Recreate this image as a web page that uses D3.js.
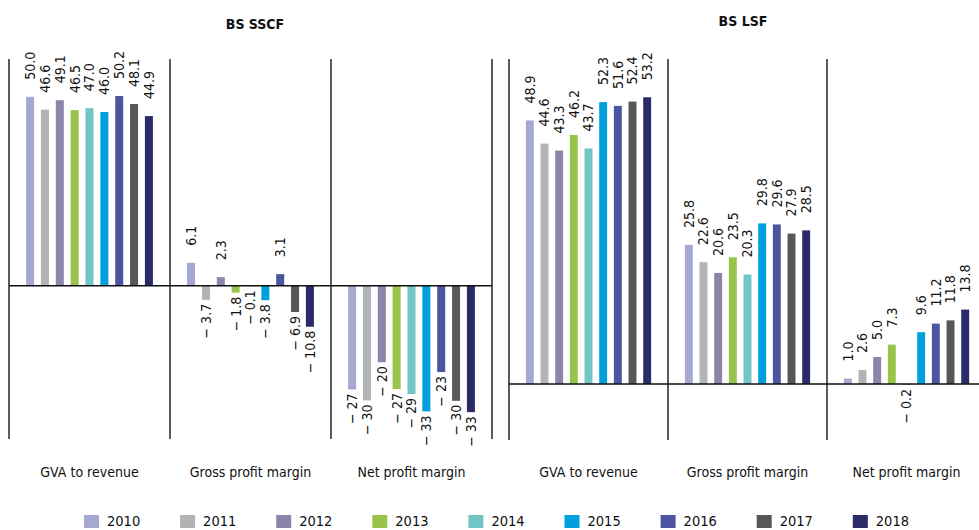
<!DOCTYPE html>
<html>
<head>
<meta charset="utf-8">
<script src="https://cdn.jsdelivr.net/npm/d3@7"></script>
<style>
  body { margin: 0; background: #fff; }
  svg { display: block; font-family: "DejaVu Sans Condensed", "DejaVu Sans", sans-serif; }
</style>
</head>
<body>
<svg width="979" height="530"></svg>
<script>
// the data
var years = ["2010", "2011", "2012", "2013", "2014", "2015", "2016", "2017", "2018"];
var categories = ["GVA to revenue", "Gross profit margin", "Net profit margin"];

var sscfGva = [50.0, 46.6, 49.1, 46.5, 47.0, 46.0, 50.2, 48.1, 44.9];
var sscfGross = [6.1, -3.7, 2.3, -1.8, -0.1, -3.8, 3.1, -6.9, -10.8];
var sscfNet = [-27.4, -30.3, -20.2, -27.3, -28.6, -33.2, -22.8, -30.4, -33.4];

var lsfGva = [48.9, 44.6, 43.3, 46.2, 43.7, 52.3, 51.6, 52.4, 53.2];
var lsfGross = [25.8, 22.6, 20.6, 23.5, 20.3, 29.8, 29.6, 27.9, 28.5];
var lsfNet = [1.0, 2.6, 5.0, 7.3, -0.2, 9.6, 11.2, 11.8, 13.8];

// colours per year
var z = d3.scaleOrdinal()
    .domain(years)
    .range(["#a6a8d4", "#b2b3b5", "#8b85aa", "#98c44c", "#72c5c5", "#00a0dc", "#4c55a0", "#575757", "#2a2b68"]);

var svg = d3.select("svg");

// two panels, each with its own y scale
var panels = [
    { title: "BS SSCF", titleX: 255, titleY: 29, x0: 9, x1: 492, yDomain: [-40.5, 60], yRange: [439, 59],
      series: [sscfGva, sscfGross, sscfNet], formats: [".1f", ".1f", ".0f"] },
    { title: "BS LSF", titleX: 743, titleY: 26, x0: 509, x1: 986, yDomain: [-10.4, 60.3], yRange: [440, 59],
      series: [lsfGva, lsfGross, lsfNet], formats: [".1f", ".1f", ".1f"] }
];

panels.forEach(function (p) {
    var g = svg.append("g");

    var x = d3.scaleBand()
        .domain(categories)
        .range([p.x0, p.x1]);

    var x1 = d3.scaleBand()
        .domain(years)
        .range([0, x.bandwidth()])
        .paddingInner(0.46)
        .paddingOuter(1.15);

    var y = d3.scaleLinear()
        .domain(p.yDomain)
        .range(p.yRange);

    // one group per category
    var cat = g.selectAll(".cat")
        .data(categories)
        .enter().append("g")
        .attr("class", "cat")
        .attr("transform", function (d) { return "translate(" + x(d) + ",0)"; });

    cat.each(function (c, ci) {
        var fmt = d3.format(p.formats[ci]);
        var rows = years.map(function (yr, i) { return { year: yr, value: p.series[ci][i] }; });
        var cg = d3.select(this);

        cg.selectAll("rect")
            .data(rows)
            .enter().append("rect")
            .attr("x", function (d) { return x1(d.year); })
            .attr("y", function (d) { return y(Math.max(0, d.value)); })
            .attr("width", x1.bandwidth())
            .attr("height", function (d) { return Math.abs(y(d.value) - y(0)); })
            .attr("fill", function (d) { return z(d.year); });

        // value labels, turned a quarter to the left
        cg.selectAll("text")
            .data(rows)
            .enter().append("text")
            .attr("transform", function (d) {
                var cx = x1(d.year) + x1.bandwidth() / 2;
                var cy = d.value >= 0 ? y(d.value) - 17 : y(d.value) + 4;
                return "translate(" + cx + "," + cy + ") rotate(-90)";
            })
            .attr("dy", "0.35em")
            .attr("text-anchor", function (d) { return d.value >= 0 ? "start" : "end"; })
            .attr("font-size", 14)
            .attr("fill", "#111")
            .text(function (d) {
                return d.value >= 0 ? fmt(d.value) : "\u2212 " + fmt(-d.value);
            });
    });

    // vertical separators
    var edges = categories.map(function (d) { return x(d); }).concat([p.x1]);
    g.selectAll(".sep")
        .data(edges)
        .enter().append("line")
        .attr("x1", function (d) { return d; })
        .attr("x2", function (d) { return d; })
        .attr("y1", p.yRange[1])
        .attr("y2", p.yRange[0])
        .attr("stroke", "#333")
        .attr("stroke-width", 1.6);

    // zero line
    g.append("line")
        .attr("x1", p.x0)
        .attr("x2", p.x1)
        .attr("y1", y(0))
        .attr("y2", y(0))
        .attr("stroke", "#111")
        .attr("stroke-width", 1.5);

    // category names under the panel
    g.selectAll(".catlabel")
        .data(categories)
        .enter().append("text")
        .attr("x", function (d) { return x(d) + x.bandwidth() / 2; })
        .attr("y", 477)
        .attr("text-anchor", "middle")
        .attr("font-size", 14)
        .attr("fill", "#111")
        .text(function (d) { return d; });

    g.append("text")
        .attr("x", p.titleX)
        .attr("y", p.titleY)
        .attr("text-anchor", "middle")
        .attr("font-size", 14)
        .attr("font-weight", "bold")
        .attr("fill", "#111")
        .text(p.title);
});

// legend along the bottom
var legend = svg.append("g")
    .selectAll("g")
    .data(years)
    .enter().append("g")
    .attr("transform", function (d, i) { return "translate(" + (84 + i * 96.1) + ",515)"; });

legend.append("rect")
    .attr("width", 15)
    .attr("height", 13)
    .attr("fill", z);

legend.append("text")
    .attr("x", 23)
    .attr("y", 11)
    .attr("font-size", 14.5)
    .attr("fill", "#111")
    .text(function (d) { return d; });
</script>
</body>
</html>
